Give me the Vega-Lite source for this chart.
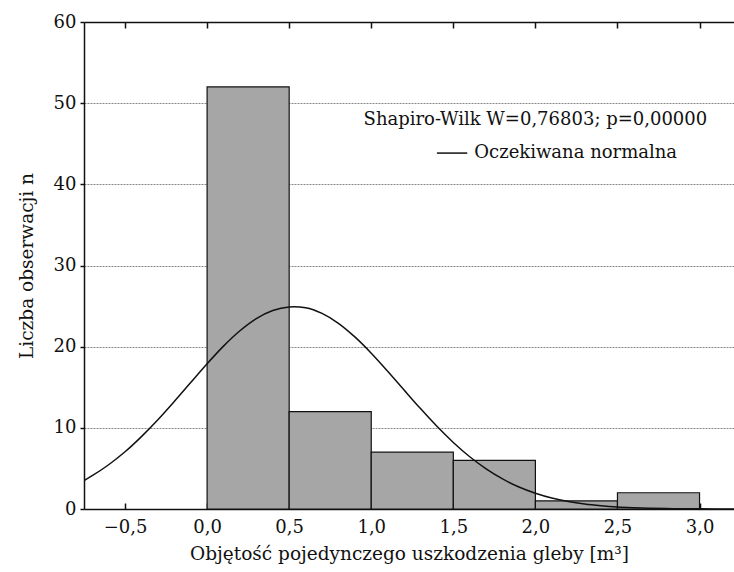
{
  "$schema": "https://vega.github.io/schema/vega-lite/v6.json",
  "width": 650,
  "height": 487,
  "autosize": {"type": "none"},
  "padding": {"left": 84, "top": 22, "right": 0, "bottom": 63},
  "background": "white",
  "config": {
    "view": {"stroke": null},
    "font": "DejaVu Serif",
    "axis": {"labelFont": "DejaVu Serif", "titleFont": "DejaVu Serif", "labelColor": "#111", "titleColor": "#111", "titleFontWeight": "normal", "labelFontSize": 18, "titleFontSize": 18.5, "domainColor": "#111", "domainWidth": 1.5, "tickColor": "#111", "tickWidth": 1.5}
  },
  "datasets": {
    "bars": [
      {"start": 0.0, "end": 0.5, "count": 52},
      {"start": 0.5, "end": 1.0, "count": 12},
      {"start": 1.0, "end": 1.5, "count": 7},
      {"start": 1.5, "end": 2.0, "count": 6},
      {"start": 2.0, "end": 2.5, "count": 1},
      {"start": 2.5, "end": 3.0, "count": 2}
    ],
    "curve": [
      {"x": -0.75, "y": 3.5},
      {"x": -0.7, "y": 4.1},
      {"x": -0.6, "y": 5.45},
      {"x": -0.5, "y": 7.05},
      {"x": -0.4, "y": 8.92},
      {"x": -0.3, "y": 11.0},
      {"x": -0.2, "y": 13.25},
      {"x": -0.1, "y": 15.58},
      {"x": 0.0, "y": 17.9},
      {"x": 0.1, "y": 20.07},
      {"x": 0.2, "y": 21.96},
      {"x": 0.3, "y": 23.46},
      {"x": 0.4, "y": 24.45},
      {"x": 0.5, "y": 24.9},
      {"x": 0.53, "y": 24.93},
      {"x": 0.6, "y": 24.8},
      {"x": 0.7, "y": 24.1},
      {"x": 0.8, "y": 22.88},
      {"x": 0.9, "y": 21.2},
      {"x": 1.0, "y": 19.2},
      {"x": 1.1, "y": 16.98},
      {"x": 1.2, "y": 14.66},
      {"x": 1.3, "y": 12.37},
      {"x": 1.4, "y": 10.19},
      {"x": 1.5, "y": 8.2},
      {"x": 1.6, "y": 6.44},
      {"x": 1.7, "y": 4.95},
      {"x": 1.8, "y": 3.71},
      {"x": 1.9, "y": 2.71},
      {"x": 2.0, "y": 1.94},
      {"x": 2.1, "y": 1.35},
      {"x": 2.2, "y": 0.92},
      {"x": 2.3, "y": 0.61},
      {"x": 2.4, "y": 0.4},
      {"x": 2.5, "y": 0.25},
      {"x": 2.6, "y": 0.16},
      {"x": 2.7, "y": 0.095},
      {"x": 2.8, "y": 0.056},
      {"x": 2.9, "y": 0.032},
      {"x": 3.0, "y": 0.018},
      {"x": 3.1, "y": 0.01},
      {"x": 3.21, "y": 0.005}
    ],
    "one": [{}]
  },
  "resolve": {"axis": {"x": "independent"}},
  "layer": [
    {
      "data": {"name": "bars"},
      "mark": {"type": "rect", "fill": "#a6a6a6", "stroke": "#111", "strokeWidth": 1.2},
      "encoding": {
        "x": {"field": "start", "type": "quantitative", "scale": {"domain": [-0.75, 3.21], "nice": false, "zero": false},
              "axis": {"orient": "bottom", "values": [-0.5, 0, 0.5, 1, 1.5, 2, 2.5, 3], "labelExpr": "replace(format(datum.value, '.1f'), '.', ',')", "tickSize": -6, "labelPadding": 15, "grid": false, "title": "Objętość pojedynczego uszkodzenia gleby [m³]", "titlePadding": 8}},
        "x2": {"field": "end"},
        "y": {"field": "count", "type": "quantitative", "scale": {"domain": [0, 60], "nice": false},
              "axis": {"values": [0, 10, 20, 30, 40, 50, 60], "grid": true, "gridDash": [2, 1], "gridColor": "#888", "gridWidth": 1, "tickSize": 4, "labelPadding": 4, "title": "Liczba obserwacji n", "titlePadding": 17}},
        "y2": {"datum": 0}
      }
    },
    {
      "data": {"name": "curve"},
      "mark": {"type": "line", "color": "#111", "strokeWidth": 1.5, "clip": true, "interpolate": "monotone"},
      "encoding": {
        "x": {"field": "x", "type": "quantitative",
              "axis": {"orient": "top", "values": [-0.5, 0, 0.5, 1, 1.5, 2, 2.5, 3], "labels": false, "tickSize": -6, "grid": false, "title": null}},
        "y": {"field": "y", "type": "quantitative", "title": "Liczba obserwacji n"}
      }
    },
    {
      "data": {"name": "one"},
      "mark": {"type": "text", "text": "Shapiro-Wilk W=0,76803; p=0,00000", "fontSize": 18, "font": "DejaVu Serif", "align": "center", "baseline": "middle", "color": "#111"},
      "encoding": {
        "x": {"datum": 2.0, "type": "quantitative", "axis": null},
        "y": {"datum": 47.9, "type": "quantitative"}
      }
    },
    {
      "data": {"name": "one"},
      "mark": {"type": "rule", "color": "#111", "strokeWidth": 1.5},
      "encoding": {
        "x": {"datum": 1.4, "type": "quantitative", "axis": null},
        "x2": {"datum": 1.585},
        "y": {"datum": 43.85, "type": "quantitative"}
      }
    },
    {
      "data": {"name": "one"},
      "mark": {"type": "text", "text": "Oczekiwana normalna", "fontSize": 18, "font": "DejaVu Serif", "align": "left", "baseline": "middle", "color": "#111"},
      "encoding": {
        "x": {"datum": 1.628, "type": "quantitative", "axis": null},
        "y": {"datum": 43.85, "type": "quantitative"}
      }
    }
  ]
}
